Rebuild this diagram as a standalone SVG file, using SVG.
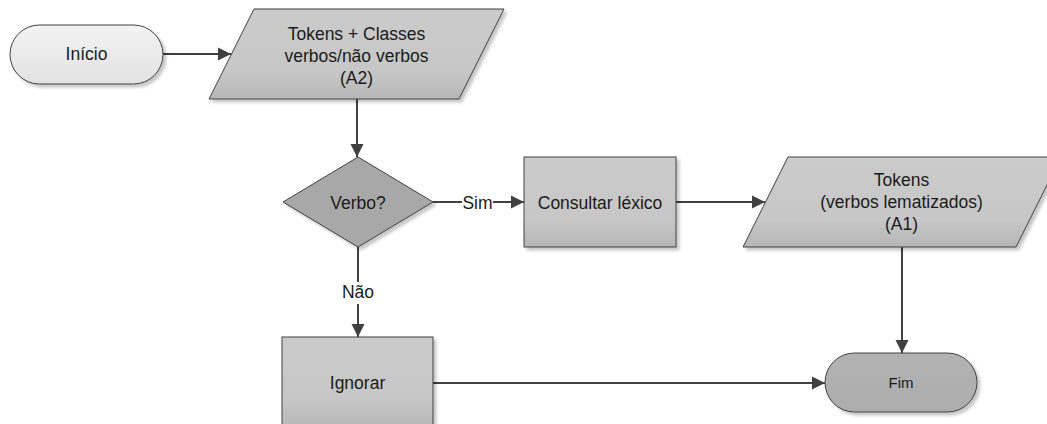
<svg xmlns="http://www.w3.org/2000/svg" width="1047" height="424" viewBox="0 0 1047 424">
  <defs>
    <linearGradient id="gTerm" x1="0" y1="0" x2="0" y2="1">
      <stop offset="0" stop-color="#f3f3f3"/>
      <stop offset="1" stop-color="#e2e2e2"/>
    </linearGradient>
    <linearGradient id="gBox" x1="0" y1="0" x2="0" y2="1">
      <stop offset="0" stop-color="#cbcbcb"/>
      <stop offset="0.7" stop-color="#c7c7c7"/>
      <stop offset="1" stop-color="#b6b6b6"/>
    </linearGradient>
    <linearGradient id="gEnd" x1="0" y1="0" x2="0" y2="1">
      <stop offset="0" stop-color="#b2b2b2"/>
      <stop offset="1" stop-color="#adadad"/>
    </linearGradient>
    <filter id="shadow" x="-10%" y="-10%" width="130%" height="140%">
      <feDropShadow dx="3" dy="3" stdDeviation="1.8" flood-color="#000" flood-opacity="0.22"/>
    </filter>
    <marker id="arrow" markerUnits="userSpaceOnUse" markerWidth="14" markerHeight="14" viewBox="0 0 14 14" refX="13" refY="7" orient="auto">
      <path d="M0,0.5 L13,7 L0,13.5 Z" fill="#404040"/>
    </marker>
  </defs>
  <style>
    .shape { stroke: #404040; stroke-width: 1; filter: url(#shadow); }
    .term { fill: url(#gTerm); }
    .box { fill: url(#gBox); }
    .dec { fill: #a8a8a8; }
    .end { fill: url(#gEnd); }
    .label { font-family: "Liberation Sans", Arial, sans-serif; font-size: 17.5px; fill: #1a1a1a; text-anchor: middle; }
    .small { font-size: 15px; }
    .conn { fill: none; stroke: #404040; stroke-width: 2; }
  </style>

  <!-- connectors -->
  <g id="connectors">
    <path class="conn" d="M163,54 H231" marker-end="url(#arrow)"/>
    <path class="conn" d="M357,99 V157" marker-end="url(#arrow)"/>
    <path class="conn" d="M433,202 H462"/>
    <path class="conn" d="M493,202 H524" marker-end="url(#arrow)"/>
    <text class="label" x="477.5" y="209">Sim</text>
    <path class="conn" d="M676,202 H765" marker-end="url(#arrow)"/>
    <path class="conn" d="M358,247 V282"/>
    <path class="conn" d="M358,304 V337" marker-end="url(#arrow)"/>
    <text class="label" x="358" y="298">Não</text>
    <path class="conn" d="M433,383 H825" marker-end="url(#arrow)"/>
    <path class="conn" d="M902,247 V353" marker-end="url(#arrow)"/>
  </g>

  <!-- start -->
  <g id="inicio">
    <rect class="shape term" x="10" y="25" width="153" height="59" rx="29.5" ry="29.5"/>
    <text class="label" x="86.5" y="60">Início</text>
  </g>

  <!-- input data A2 -->
  <g id="dados-a2">
    <polygon class="shape box" points="254,9 504,9 459,99 209,99"/>
    <text class="label" x="356.5" y="40">Tokens + Classes</text>
    <text class="label" x="356.5" y="62">verbos/não verbos</text>
    <text class="label" x="356.5" y="84">(A2)</text>
  </g>

  <!-- decision -->
  <g id="verbo">
    <polygon class="shape dec" points="358,157 433,202 358,247 283,202"/>
    <text class="label" x="358" y="209">Verbo?</text>
  </g>

  <!-- lexicon lookup -->
  <g id="consultar">
    <rect class="shape box" x="524" y="157" width="152" height="90"/>
    <text class="label" x="600" y="209">Consultar léxico</text>
  </g>

  <!-- output data A1 -->
  <g id="dados-a1">
    <polygon class="shape box" points="788,157 1061,157 1016,247 743,247"/>
    <text class="label" x="901.5" y="186">Tokens</text>
    <text class="label" x="901.5" y="208">(verbos lematizados)</text>
    <text class="label" x="901.5" y="230">(A1)</text>
  </g>

  <!-- skip -->
  <g id="ignorar">
    <rect class="shape box" x="282" y="337" width="151" height="90"/>
    <text class="label" x="357.5" y="389">Ignorar</text>
  </g>

  <!-- end -->
  <g id="fim">
    <rect class="shape end" x="825" y="353" width="152" height="59" rx="29.5" ry="29.5"/>
    <text class="label small" x="901" y="388">Fim</text>
  </g>
</svg>
